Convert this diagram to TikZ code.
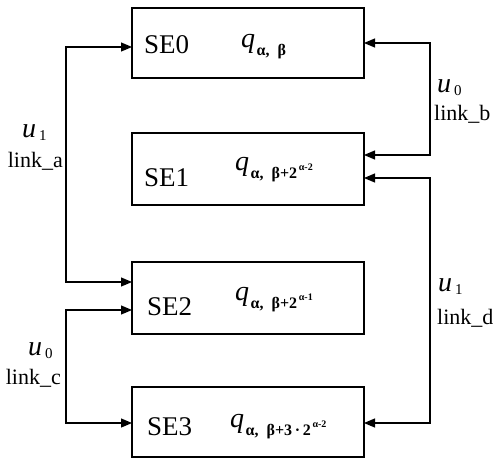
\documentclass[tikz,border=0pt]{standalone}
\usepackage{fontspec}
\setmainfont{Liberation Serif}
\usetikzlibrary{arrows.meta}
\newcommand{\qlab}[1]{{\fontsize{28}{28}\selectfont\itshape q}\hspace{1.5pt}\raisebox{-8pt}{\fontsize{16}{16}\selectfont\bfseries #1}}
\newcommand{\supx}[1]{\raisebox{8pt}{\fontsize{10}{10}\selectfont\bfseries #1}}
\newcommand{\ulab}[1]{{\fontsize{28}{28}\selectfont\itshape u}\hspace{3pt}\raisebox{-3pt}{\fontsize{15}{15}\selectfont #1}}
\begin{document}
\begin{tikzpicture}[x=1pt,y=-1pt,
  box/.style={draw, line width=1.3pt, minimum width=232pt, inner sep=0pt, outer sep=0pt, anchor=north west},
  link/.style={line width=1.2pt, {Triangle[length=11pt,width=9pt]}-{Triangle[length=11pt,width=9pt]}},
  setxt/.style={anchor=base west, inner sep=0pt, font=\fontsize{27}{27}\selectfont},
  qtxt/.style={anchor=base west, inner sep=0pt},
  lnk/.style={inner sep=0pt, font=\fontsize{22}{22}\selectfont}]
\useasboundingbox (0,0) rectangle (495,458);
% boxes
\node[box, minimum height=70pt] (se0) at (132,8) {};
\node[box, minimum height=72pt] (se1) at (132,133) {};
\node[box, minimum height=72pt] (se2) at (132,262) {};
\node[box, minimum height=70pt] (se3) at (132,387) {};
% box texts
\node[setxt] (t0) at (144,53) {SE0};
\node[setxt] (t1) at (144,186) {SE1};
\node[setxt] (t2) at (147,315) {SE2};
\node[setxt] (t3) at (147,435) {SE3};
\node[qtxt] (q0) at (241,47) {\qlab{α,\ \ β}};
\node[qtxt] (q1) at (235,170) {\qlab{α,\ \ β+2\supx{\,α-2}}};
\node[qtxt] (q2) at (235,300) {\qlab{α,\ \ β+2\supx{\,α-1}}};
\node[qtxt] (q3) at (230,427) {\qlab{α,\ \ β+3\,·\,2\supx{\,α-2}}};
% connectors
\coordinate (a1) at (66,47); \coordinate (a2) at (66,282);
\draw[link] (se0.west |- a1) -- (a1) -- (a2) -- (se2.west |- a2);
\coordinate (b1) at (430,43); \coordinate (b2) at (430,155);
\draw[link] (se0.east |- b1) -- (b1) -- (b2) -- (se1.east |- b2);
\coordinate (c1) at (66,310); \coordinate (c2) at (66,423);
\draw[link] (se2.west |- c1) -- (c1) -- (c2) -- (se3.west |- c2);
\coordinate (d1) at (430,178); \coordinate (d2) at (430,423);
\draw[link] (se1.east |- d1) -- (d1) -- (d2) -- (se3.east |- d2);
% labels
\node[qtxt] (ua) at (22,137) {\ulab{1}};
\node[lnk, anchor=base east] (la) at (63,167) {link\_a};
\node[qtxt] (ub) at (437,92) {\ulab{0}};
\node[lnk, anchor=base west] (lb) at (434,120) {link\_b};
\node[qtxt] (ud) at (438,291) {\ulab{1}};
\node[lnk, anchor=base west] (ld) at (437,324) {link\_d};
\node[qtxt] (uc) at (28,355) {\ulab{0}};
\node[lnk, anchor=base east] (lc) at (61,384) {link\_c};
\end{tikzpicture}
\end{document}
